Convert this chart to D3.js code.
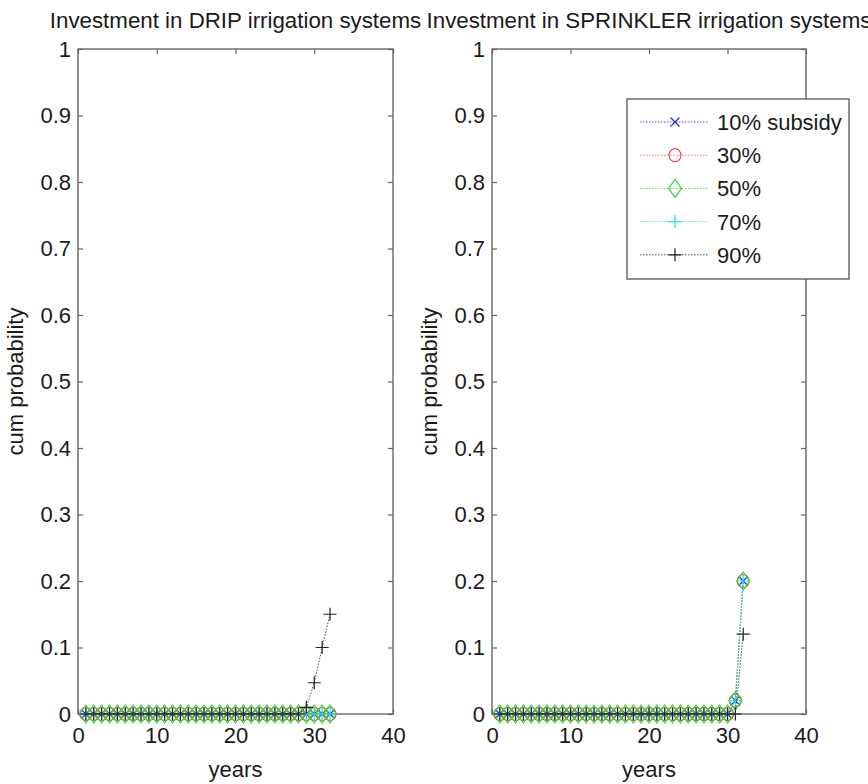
<!DOCTYPE html>
<html>
<head>
<meta charset="utf-8">
<script src="https://cdn.jsdelivr.net/npm/d3@7/dist/d3.min.js"></script>
<style>
  html, body { margin: 0; padding: 0; background: #fff; }
  svg text { font-family: "Liberation Sans", Arial, sans-serif; fill: #1a1a1a; }
</style>
</head>
<body>
<svg id="chart" width="868" height="784"></svg>
<script>
// Years on the horizontal axis (one point per year)
const years = [1,2,3,4,5,6,7,8,9,10,11,12,13,14,15,16,17,18,19,20,21,22,23,24,25,26,27,28,29,30,31,32];

// Subsidy levels (legend)
const subsidyLabels = ["10% subsidy", "30%", "50%", "70%", "90%"];

// Cumulative probability of investing in DRIP systems, per subsidy level
const drip10 = [0,0,0,0,0,0,0,0,0,0,0,0,0,0,0,0,0,0,0,0,0,0,0,0,0,0,0,0,0,0,0,0];
const drip30 = [0,0,0,0,0,0,0,0,0,0,0,0,0,0,0,0,0,0,0,0,0,0,0,0,0,0,0,0,0,0,0,0];
const drip50 = [0,0,0,0,0,0,0,0,0,0,0,0,0,0,0,0,0,0,0,0,0,0,0,0,0,0,0,0,0,0,0,0];
const drip70 = [0,0,0,0,0,0,0,0,0,0,0,0,0,0,0,0,0,0,0,0,0,0,0,0,0,0,0,0,0,0,0,0];
const drip90 = [0,0,0,0,0,0,0,0,0,0,0,0,0,0,0,0,0,0,0,0,0,0,0,0,0,0,0,0,0.01,0.047,0.1,0.15];

// Cumulative probability of investing in SPRINKLER systems, per subsidy level
const spr10 = [0,0,0,0,0,0,0,0,0,0,0,0,0,0,0,0,0,0,0,0,0,0,0,0,0,0,0,0,0,0,0.02,0.2];
const spr30 = [0,0,0,0,0,0,0,0,0,0,0,0,0,0,0,0,0,0,0,0,0,0,0,0,0,0,0,0,0,0,0.02,0.2];
const spr50 = [0,0,0,0,0,0,0,0,0,0,0,0,0,0,0,0,0,0,0,0,0,0,0,0,0,0,0,0,0,0,0.02,0.2];
const spr70 = [0,0,0,0,0,0,0,0,0,0,0,0,0,0,0,0,0,0,0,0,0,0,0,0,0,0,0,0,0,0,0.02,0.2];
const spr90 = [0,0,0,0,0,0,0,0,0,0,0,0,0,0,0,0,0,0,0,0,0,0,0,0,0,0,0,0,0,0,0,0.12];

// Axis ticks
const xTicks = [0, 10, 20, 30, 40];
const yTicks = [0, 0.1, 0.2, 0.3, 0.4, 0.5, 0.6, 0.7, 0.8, 0.9, 1];
const yTickLabels = ["0", "0.1", "0.2", "0.3", "0.4", "0.5", "0.6", "0.7", "0.8", "0.9", "1"];

// Series styles: colour and marker shape
const styles = [
  { color: "#2a2ae0", marker: "x" },
  { color: "#ee4a4a", marker: "o" },
  { color: "#33d633", marker: "d" },
  { color: "#22dede", marker: "+" },
  { color: "#222222", marker: "+" }
];

const panels = [
  { title: "Investment in DRIP irrigation systems", x0: 78, x1: 393,
    series: [drip10, drip30, drip50, drip70, drip90], legend: false },
  { title: "Investment in SPRINKLER irrigation systems", x0: 492, x1: 806,
    series: [spr10, spr30, spr50, spr70, spr90], legend: true }
];

const plotTop = 49, plotBottom = 714;
const svg = d3.select("#chart");

function markerPath(type) {
  switch (type) {
    case "x": return "M-4.5,-4.5L4.5,4.5M-4.5,4.5L4.5,-4.5";
    case "+": return "M-6.5,0L6.5,0M0,-6.5L0,6.5";
    case "d": return "M0,-9L6.5,0L0,9L-6.5,0Z";
    default: return null;
  }
}

function drawMarker(g, type, color) {
  if (type === "o") {
    g.append("ellipse").attr("rx", 6).attr("ry", 6.5)
      .attr("fill", "none").attr("stroke", color).attr("stroke-width", 1.2);
  } else {
    g.append("path").attr("d", markerPath(type))
      .attr("fill", "none").attr("stroke", color).attr("stroke-width", 1.2);
  }
}

panels.forEach(p => {
  const x = d3.scaleLinear().domain([0, 40]).range([p.x0, p.x1]);
  const y = d3.scaleLinear().domain([0, 1]).range([plotBottom, plotTop]);
  const g = svg.append("g");

  // Axes: labelled bottom/left, mirrored inward ticks on top/right
  const axStyle = sel => {
    sel.selectAll(".domain").remove();
    sel.selectAll(".tick line").attr("stroke", "#666").attr("stroke-width", 1.2);
    sel.selectAll("text").attr("font-size", 22).attr("fill", "#1a1a1a")
      .attr("font-family", "Liberation Sans, Arial, sans-serif");
  };
  g.append("g").attr("transform", `translate(0,${plotBottom})`)
    .call(d3.axisBottom(x).tickValues(xTicks).tickFormat(d3.format("d"))
      .tickSize(-5).tickSizeOuter(0).tickPadding(13))
    .call(axStyle);
  g.append("g").attr("transform", `translate(0,${plotTop})`)
    .call(d3.axisTop(x).tickValues(xTicks).tickFormat("").tickSize(-5).tickSizeOuter(0))
    .call(axStyle);
  g.append("g").attr("transform", `translate(${p.x0},0)`)
    .call(d3.axisLeft(y).tickValues(yTicks).tickFormat((d, i) => yTickLabels[i])
      .tickSize(-5).tickSizeOuter(0).tickPadding(7))
    .call(axStyle);
  g.append("g").attr("transform", `translate(${p.x1},0)`)
    .call(d3.axisRight(y).tickValues(yTicks).tickFormat("").tickSize(-5).tickSizeOuter(0))
    .call(axStyle);

  // Plot box
  g.append("rect").attr("x", p.x0).attr("y", plotTop)
    .attr("width", p.x1 - p.x0).attr("height", plotBottom - plotTop)
    .attr("fill", "none").attr("stroke", "#666").attr("stroke-width", 1.4);

  // Series: dotted line then markers, later series on top
  const line = d3.line().x((d, i) => x(years[i])).y(d => y(d));
  p.series.forEach((vals, si) => {
    const st = styles[si];
    const sg = g.append("g");
    sg.append("path").datum(vals).attr("d", line)
      .attr("fill", "none").attr("stroke", st.color).attr("stroke-width", 1)
      .attr("stroke-dasharray", "1.5,1.5").attr("opacity", 0.8);
    vals.forEach((v, i) => {
      const mg = sg.append("g").attr("transform", `translate(${x(years[i])},${y(v)})`);
      drawMarker(mg, st.marker, st.color);
    });
  });

  // Titles and axis labels
  const cx = (p.x0 + p.x1) / 2;
  svg.append("text").attr("x", cx).attr("y", 28).attr("text-anchor", "middle")
    .attr("font-size", 22.3).text(p.title);
  svg.append("text").attr("x", cx).attr("y", 777).attr("text-anchor", "middle")
    .attr("font-size", 22).text("years");
  svg.append("text").attr("transform", `translate(${p.x0 - 55},${(plotTop + plotBottom) / 2}) rotate(-90)`)
    .attr("text-anchor", "middle").attr("font-size", 22).text("cum probability");

  // Legend
  if (p.legend) {
    const lx = 627, ly = 99, lw = 222, lh = 180;
    const lg = svg.append("g");
    lg.append("rect").attr("x", lx).attr("y", ly).attr("width", lw).attr("height", lh)
      .attr("fill", "#fff").attr("stroke", "#555").attr("stroke-width", 1.3);
    subsidyLabels.forEach((lab, i) => {
      const yy = 122 + i * 33.2;
      const st = styles[i];
      lg.append("line").attr("x1", 640).attr("x2", 708).attr("y1", yy).attr("y2", yy)
        .attr("stroke", st.color).attr("stroke-width", 1)
        .attr("stroke-dasharray", "1.5,1.5").attr("opacity", 0.8);
      const mg = lg.append("g").attr("transform", `translate(675,${yy})`);
      drawMarker(mg, st.marker, st.color);
      lg.append("text").attr("x", 717).attr("y", yy + 8).attr("font-size", 22).text(lab);
    });
  }
});
</script>
</body>
</html>
